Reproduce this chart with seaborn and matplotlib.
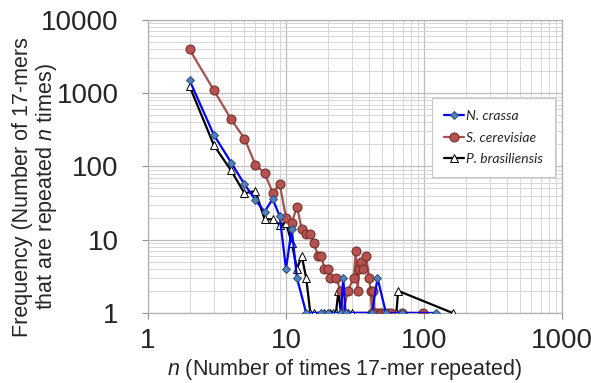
import numpy as np
import pandas as pd
import seaborn as sns
import matplotlib.pyplot as plt
from matplotlib.ticker import LogLocator, NullFormatter

# N. crassa
nc_n = [2, 3, 4, 5, 6, 7, 8, 9, 10, 11, 12, 14, 18, 20, 25, 26, 27, 42, 46, 53, 69, 123]
nc_f = [1500, 270, 113, 57, 35, 24, 36, 21, 4, 14, 3, 1, 1, 1, 1, 3, 1, 1, 3, 1, 1, 1]

# S. cerevisiae
sc_n = [2, 3, 4, 5, 6, 7, 8, 9, 10, 11, 12, 13, 14, 15, 16, 17, 18, 19, 20, 21, 23,
        25, 26, 28, 31, 32, 33, 34, 35, 36, 38, 40, 41, 42, 43, 44, 46, 48, 50, 52,
        55, 58, 69, 98]
sc_f = [3950, 1100, 440, 240, 106, 81, 44, 57, 20, 17, 28, 14, 12, 12, 9, 6, 6, 4, 4, 3, 3,
        2, 1, 2, 3, 7, 2, 4, 5, 4, 6, 3, 2, 1, 2, 1, 1, 1, 1, 1,
        1, 1, 1, 1]

# P. brasiliensis
pb_n = [2, 3, 4, 5, 6, 7, 8, 9, 10, 11, 12, 13, 14, 15, 16, 19, 20, 21, 22, 23, 24,
        25, 27, 28, 30, 63, 65, 161]
pb_f = [1250, 195, 88, 43, 46, 19, 19, 16, 17, 9, 4, 6, 3, 1, 1, 1, 1, 1, 1, 1, 2,
        1, 1, 1, 1, 1, 2, 1]

df = pd.concat([
    pd.DataFrame({'n': nc_n, 'freq': nc_f, 'species': 'N. crassa'}),
    pd.DataFrame({'n': sc_n, 'freq': sc_f, 'species': 'S. cerevisiae'}),
    pd.DataFrame({'n': pb_n, 'freq': pb_f, 'species': 'P. brasiliensis'}),
])

sns.set_style('white')
plt.rcParams['font.family'] = ['Liberation Sans', 'DejaVu Sans']
plt.rcParams['mathtext.fontset'] = 'custom'
plt.rcParams['mathtext.it'] = 'Liberation Sans:italic'
plt.rcParams['mathtext.rm'] = 'Liberation Sans'

fig = plt.figure(figsize=(5.91, 3.83), dpi=100)
ax = fig.add_axes([0.2504, 0.183, 0.7006, 0.765])

styles = {
    'P. brasiliensis': dict(color='black', marker='^', markerfacecolor='white',
                            markeredgecolor='black', markersize=6, zorder=3),
    'S. cerevisiae': dict(color='#A5524C', marker='o', markerfacecolor='#B5524E',
                          markeredgecolor='#6B2A26', markersize=6.5, zorder=4),
    'N. crassa': dict(color='#0000FF', marker='D', markerfacecolor='#4F81BD',
                      markeredgecolor='#2C4D75', markersize=4, zorder=5),
}
for sp in ['P. brasiliensis', 'S. cerevisiae', 'N. crassa']:
    st = styles[sp]
    sns.lineplot(data=df[df['species'] == sp], x='n', y='freq', ax=ax,
                 estimator=None, sort=False, linewidth=1.6, markeredgewidth=0.7,
                 label=sp, **st)

ax.set_xscale('log')
ax.set_yscale('log')
ax.set_xlim(1, 1000)
ax.set_ylim(1, 10000)

ax.xaxis.set_minor_locator(LogLocator(base=10, subs=np.arange(2, 10), numticks=20))
ax.yaxis.set_minor_locator(LogLocator(base=10, subs=np.arange(2, 10), numticks=20))
ax.xaxis.set_minor_formatter(NullFormatter())
ax.yaxis.set_minor_formatter(NullFormatter())
ax.set_xticks([1, 10, 100, 1000])
ax.set_xticklabels(['1', '10', '100', '1000'])
ax.set_yticks([1, 10, 100, 1000, 10000])
ax.set_yticklabels(['1', '10', '100', '1000', '10000'])

ax.grid(which='major', color='#BEBEBE', linewidth=0.9)
ax.grid(which='minor', color='#D6D6D6', linewidth=0.7)
ax.set_axisbelow(True)
for s in ax.spines.values():
    s.set_color('#B0B0B0')
    s.set_linewidth(0.9)

ax.tick_params(axis='both', which='major', labelsize=20, length=4, color='#909090',
               direction='out', bottom=True, left=True)
ax.tick_params(axis='both', which='minor', length=0)
ax.tick_params(axis='y', pad=17)
ax.tick_params(axis='x', pad=7)

ax.set_xlabel('$n$ (Number of times 17-mer repeated)', fontsize=15.5)
ax.set_ylabel('Frequency (Number of 17-mers\nthat are repeated $n$ times)', fontsize=15.5,
              linespacing=1.05)
ax.xaxis.set_label_coords(0.476, -0.152)
ax.yaxis.set_label_coords(-0.215, 0.43)

handles, labels = ax.get_legend_handles_labels()
order = [labels.index(l) for l in ['N. crassa', 'S. cerevisiae', 'P. brasiliensis']]
leg = ax.legend([handles[i] for i in order], [labels[i] for i in order],
                loc='upper right', bbox_to_anchor=(1.0, 0.757), frameon=True,
                fancybox=False, framealpha=1, edgecolor='#C8C8C8', handlelength=1.4,
                handletextpad=0.2, labelspacing=0.7, borderpad=0.85,
                prop={'family': 'Lato', 'style': 'italic', 'size': 10})
leg.get_frame().set_linewidth(0.8)

fig.savefig('out.png', dpi=100)
